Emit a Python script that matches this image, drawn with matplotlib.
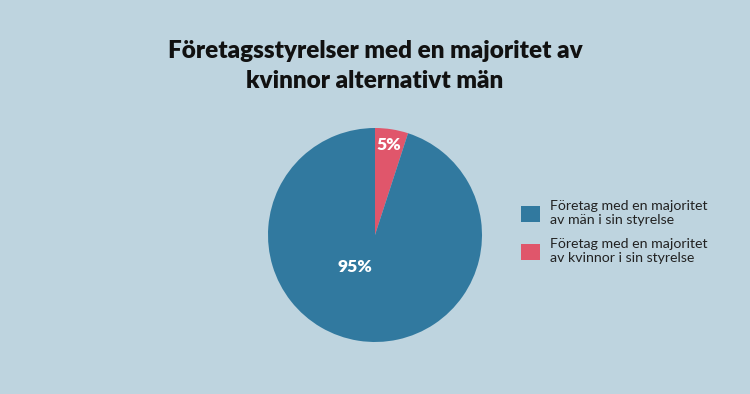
import matplotlib
matplotlib.use("Agg")
import matplotlib.pyplot as plt
from matplotlib.patches import Patch

categories = ["Företag med en majoritet\nav män i sin styrelse",
              "Företag med en majoritet\nav kvinnor i sin styrelse"]
values = [95, 5]
labels = ["95%", "5%"]
colors = ["#31799f", "#e0566b"]
title = "Företagsstyrelser med en majoritet av\nkvinnor alternativt män"

bg = "#bed4df"
plt.rcParams['font.family'] = ['Lato', 'DejaVu Sans']

fig = plt.figure(figsize=(7.5, 3.94), dpi=100, facecolor=bg)
ax = fig.add_axes([268/750, 52/394, 214/750, 214/394])
ax.set_facecolor(bg)

# draw kvinnor first so it starts at 12 o'clock going clockwise
wedges, _ = ax.pie(values[::-1], colors=colors[::-1], startangle=90,
                   counterclock=False, radius=1.0)
ax.set_aspect('equal')
ax.set_xlim(-1, 1)
ax.set_ylim(-1, 1)

ax.text(0.13, 0.84, labels[1], ha='center', va='center', color='white',
        fontsize=12.5, fontweight='heavy')
ax.text(-0.19, -0.30, labels[0], ha='center', va='center', color='white',
        fontsize=12.5, fontweight='heavy')

fig.text(0.5, 0.833, title, ha='center', va='center', fontsize=17.5,
         fontweight='heavy', color='#111111', linespacing=1.45)

handles = [Patch(facecolor=c, edgecolor='none') for c in colors]
leg = fig.legend(handles, categories, loc='center left',
                 bbox_to_anchor=(0.677, 0.41), frameon=False,
                 fontsize=10.2, handlelength=1.35, handleheight=1.35,
                 labelspacing=0.85, handletextpad=0.75, labelcolor='#222222')

fig.savefig("out.png", dpi=100, facecolor=bg)
